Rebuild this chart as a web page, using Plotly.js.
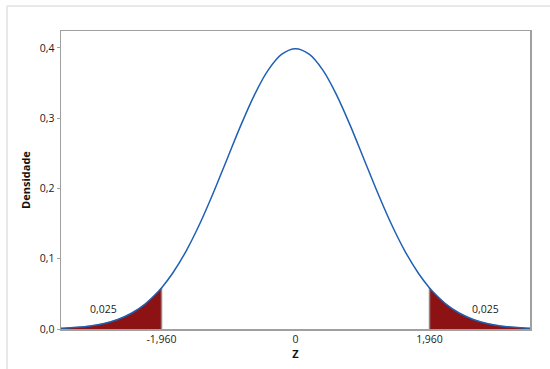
<!DOCTYPE html>
<html>
<head>
<meta charset="utf-8">
<script src="https://cdn.plot.ly/plotly-3.0.1.min.js"></script>
<style>html,body{margin:0;padding:0;background:#fff;}</style>
</head>
<body>
<div id="chart" style="width:550px;height:369px;"></div>
<script>
// Standard normal density
const zValues = [-3.5,-3.4,-3.2,-3.0,-2.8,-2.6,-2.4,-2.2,-2.0,-1.96,-1.8,-1.6,-1.4,-1.2,-1.0,-0.8,-0.6,-0.4,-0.2,0.0,
                 0.2,0.4,0.6,0.8,1.0,1.2,1.4,1.6,1.8,1.96,2.0,2.2,2.4,2.6,2.8,3.0,3.2,3.4,3.5];
const densityValues = [0.0009,0.0012,0.0024,0.0044,0.0079,0.0136,0.0224,0.0355,0.0540,0.0584,0.0790,0.1109,0.1497,0.1942,0.2420,0.2897,0.3332,0.3683,0.3910,0.3989,
                 0.3910,0.3683,0.3332,0.2897,0.2420,0.1942,0.1497,0.1109,0.0790,0.0584,0.0540,0.0355,0.0224,0.0136,0.0079,0.0044,0.0024,0.0012,0.0009];
const criticalZ = 1.96;
const tailProbability = '0,025';
const yTickValues = [0, 0.1, 0.2, 0.3, 0.4];
const yTickLabels = ['0,0', '0,1', '0,2', '0,3', '0,4'];
const xTickValues = [-1.96, 0, 1.96];
const xTickLabels = ['-1,960', '0', '1,960'];

const critDensity = densityValues[zValues.indexOf(criticalZ)];
const leftX = [], leftY = [], rightX = [], rightY = [];
zValues.forEach((z, i) => {
  if (z <= -criticalZ) { leftX.push(z); leftY.push(densityValues[i]); }
  if (z >= criticalZ) { rightX.push(z); rightY.push(densityValues[i]); }
});

const red = 'rgb(140,18,20)';
const traces = [
  {x: leftX, y: leftY, type: 'scatter', mode: 'lines', fill: 'tozeroy', fillcolor: red,
   line: {color: red, width: 0.5, shape: 'spline'}, hoverinfo: 'skip'},
  {x: rightX, y: rightY, type: 'scatter', mode: 'lines', fill: 'tozeroy', fillcolor: red,
   line: {color: red, width: 0.5, shape: 'spline'}, hoverinfo: 'skip'},
  {x: [-criticalZ, -criticalZ], y: [0, critDensity], type: 'scatter', mode: 'lines',
   line: {color: '#8a8a8a', width: 1.5}},
  {x: [criticalZ, criticalZ], y: [0, critDensity], type: 'scatter', mode: 'lines',
   line: {color: '#8a8a8a', width: 1.5}},
  {x: zValues, y: densityValues, type: 'scatter', mode: 'lines',
   line: {color: '#1e60b4', width: 1.5, shape: 'spline'}}
];

const fontFam = '"Open Sans", "Noto Sans", sans-serif';
const layout = {
  width: 550, height: 369,
  margin: {l: 61, r: 20, t: 31, b: 40},
  paper_bgcolor: '#fff', plot_bgcolor: '#fff',
  showlegend: false,
  font: {family: fontFam, size: 10, color: '#222'},
  xaxis: {
    range: [-3.43, 3.43], showgrid: false, zeroline: false,
    showline: true, mirror: true, linecolor: '#a0a0a0', linewidth: 1.5,
    tickmode: 'array', tickvals: xTickValues, ticktext: xTickLabels,
    ticks: '',
    tickfont: {family: fontFam, size: 10.5, color: '#222'},
    title: {text: '<b>Z</b>', standoff: 1, font: {family: fontFam, size: 11, color: '#111'}}
  },
  yaxis: {
    range: [0, 0.424], showgrid: false, zeroline: false,
    showline: true, mirror: true, linecolor: '#a0a0a0', linewidth: 1.5,
    tickmode: 'array', tickvals: yTickValues, ticktext: yTickLabels,
    ticks: 'outside', ticklen: 3, tickcolor: '#a0a0a0',
    tickfont: {family: fontFam, size: 10.5, color: '#222'},
    title: {text: '<b>Densidade</b>', standoff: 7, font: {family: fontFam, size: 11, color: '#111'}}
  },
  annotations: [
    {x: -2.81, y: 0.0285, xref: 'x', yref: 'y', text: tailProbability, showarrow: false,
     font: {family: fontFam, size: 10.5, color: '#222'}},
    {x: 2.78, y: 0.0285, xref: 'x', yref: 'y', text: tailProbability, showarrow: false,
     font: {family: fontFam, size: 10.5, color: '#222'}}
  ],
  shapes: [
    {type: 'line', xref: 'paper', yref: 'paper', x0: -0.1151, x1: 1.0426, y0: 1.0839, y1: 1.0839,
     line: {color: '#e2e2e2', width: 1.5}},
    {type: 'line', xref: 'paper', yref: 'paper', x0: -0.1151, x1: -0.1151, y0: 1.0839, y1: -0.14,
     line: {color: '#e2e2e2', width: 1.5}}
  ]
};

Plotly.newPlot('chart', traces, layout, {displayModeBar: false, staticPlot: true});
</script>
</body>
</html>
